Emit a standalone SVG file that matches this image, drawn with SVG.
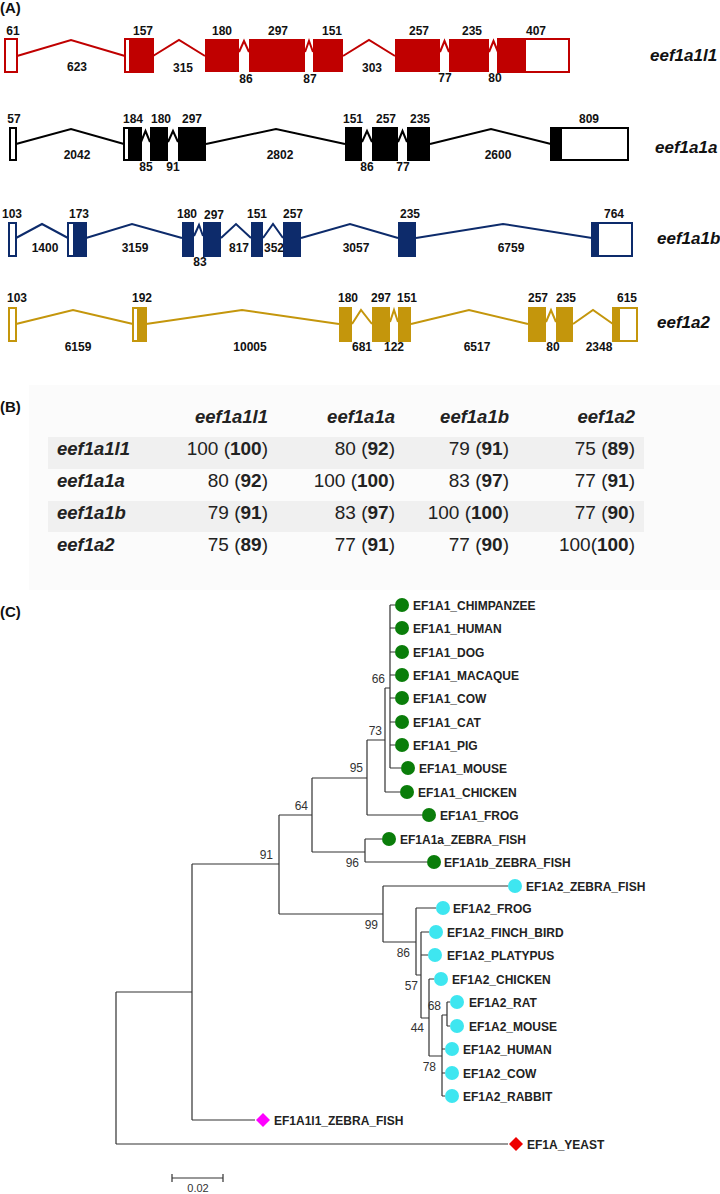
<svg xmlns="http://www.w3.org/2000/svg" width="720" height="1194" viewBox="0 0 720 1194">
<style>
.pl{font-family:"Liberation Sans",Arial,sans-serif;font-weight:bold;font-size:15px;fill:#111}
.n{font-family:"Liberation Sans",Arial,sans-serif;font-weight:bold;font-size:12px;fill:#111;text-anchor:middle}
.gl{font-family:"Liberation Sans",Arial,sans-serif;font-weight:bold;font-style:italic;font-size:17px;fill:#111}
.th{font-family:"Liberation Sans",Arial,sans-serif;font-weight:bold;font-style:italic;font-size:18.5px;fill:#222}
.tc{font-family:"Liberation Sans",Arial,sans-serif;font-size:19px;fill:#222;text-anchor:end}
.tc tspan{font-weight:bold}
.bs{font-family:"Liberation Sans",Arial,sans-serif;font-size:12px;fill:#333;text-anchor:end}
.lf{font-family:"Liberation Sans",Arial,sans-serif;font-weight:bold;font-size:12px;fill:#222}
.tl{fill:none;stroke:#333;stroke-width:1.2}
.ln{fill:none;stroke-width:2;stroke-linejoin:miter}
.r .ln,.r .u{stroke:#c00000}.r .f{fill:#c00000}
.k .ln,.k .u{stroke:#000}.k .f{fill:#000}
.b .ln,.b .u{stroke:#0d2b6b}.b .f{fill:#0d2b6b}
.g .ln,.g .u{stroke:#c4960c}.g .f{fill:#c4960c}
.u{fill:#fff;stroke-width:2}
.a1{fill:#0a7d0a}.a2{fill:#3ee6f0}
</style>
<rect width="720" height="1194" fill="#fff"/>
<text class="pl" x="0" y="13">(A)</text>
<text class="pl" x="0" y="412">(B)</text>
<text class="pl" x="0" y="617">(C)</text>

<!-- Panel A -->
<g id="gene-eef1a1l1" class="r">
<rect class="u" x="5" y="39" width="12" height="33"/>
<polyline class="ln" points="17,56 71,40 125,56"/>
<rect class="u" x="125" y="39" width="28" height="33"/>
<rect class="f" x="129" y="39" width="24" height="33"/>
<polyline class="ln" points="153,56 179,40 205,56"/>
<rect class="f" x="205" y="39" width="34" height="33"/>
<polyline class="ln" points="239,52 244,41 249,52"/>
<rect class="f" x="249" y="39" width="56" height="33"/>
<polyline class="ln" points="305,52 309,41 313,52"/>
<rect class="f" x="313" y="39" width="30" height="33"/>
<polyline class="ln" points="343,56 369,40 395,56"/>
<rect class="f" x="395" y="39" width="45" height="33"/>
<polyline class="ln" points="440,52 444.5,41 449,52"/>
<rect class="f" x="449" y="39" width="40" height="33"/>
<polyline class="ln" points="489,52 493.5,41 498,52"/>
<rect class="u" x="498" y="39" width="71" height="33"/>
<rect class="f" x="497" y="38" width="29" height="35"/>
<text class="n" x="13" y="35">61</text><text class="n" x="143" y="35">157</text><text class="n" x="222" y="35">180</text><text class="n" x="278" y="35">297</text><text class="n" x="332" y="35">151</text><text class="n" x="419" y="35">257</text><text class="n" x="472" y="35">235</text><text class="n" x="536" y="35">407</text>
<text class="n" x="77" y="71">623</text><text class="n" x="183" y="72">315</text><text class="n" x="246" y="83">86</text><text class="n" x="310" y="83">87</text><text class="n" x="372" y="72">303</text><text class="n" x="445" y="82">77</text><text class="n" x="495" y="82">80</text>
<text class="gl" x="650" y="61">eef1a1l1</text>
</g>

<g id="gene-eef1a1a" class="k">
<rect class="u" x="10" y="128" width="6" height="32"/>
<polyline class="ln" points="16,144 71,129 124,144"/>
<rect class="u" x="124" y="128" width="17" height="32"/>
<rect class="f" x="128" y="127" width="13" height="34"/>
<polyline class="ln" points="141,142 145.5,131 150,142"/>
<rect class="f" x="150" y="127" width="18" height="34"/>
<polyline class="ln" points="168,142 173,131 178,142"/>
<rect class="f" x="178" y="127" width="28" height="34"/>
<polyline class="ln" points="206,144 276,129 345,144"/>
<rect class="f" x="345" y="127" width="17" height="34"/>
<polyline class="ln" points="362,142 367,131 372,142"/>
<rect class="f" x="372" y="127" width="26" height="34"/>
<polyline class="ln" points="398,142 402.5,131 407,142"/>
<rect class="f" x="407" y="127" width="23" height="34"/>
<polyline class="ln" points="430,144 491,129 551,144"/>
<rect class="u" x="551" y="128" width="77" height="32"/>
<rect class="f" x="550" y="127" width="12" height="34"/>
<text class="n" x="14" y="123">57</text><text class="n" x="133" y="123">184</text><text class="n" x="161" y="123">180</text><text class="n" x="192" y="123">297</text><text class="n" x="353" y="123">151</text><text class="n" x="386" y="123">257</text><text class="n" x="420" y="123">235</text><text class="n" x="589" y="123">809</text>
<text class="n" x="77" y="159">2042</text><text class="n" x="146" y="171">85</text><text class="n" x="173" y="171">91</text><text class="n" x="280" y="159">2802</text><text class="n" x="367" y="171">86</text><text class="n" x="403" y="171">77</text><text class="n" x="498" y="159">2600</text>
<text class="gl" x="655" y="153">eef1a1a</text>
</g>

<g id="gene-eef1a1b" class="b">
<rect class="u" x="9" y="223" width="7" height="33"/>
<polyline class="ln" points="16,238 42,224 68,238"/>
<rect class="u" x="68" y="223" width="18" height="33"/>
<rect class="f" x="73" y="222" width="13" height="35"/>
<polyline class="ln" points="86,238 132,224 182,238"/>
<rect class="f" x="182" y="222" width="12" height="35"/>
<polyline class="ln" points="194,236 199,225 203,236"/>
<rect class="f" x="203" y="222" width="18" height="35"/>
<polyline class="ln" points="221,238 236,224 251,238"/>
<rect class="f" x="251" y="222" width="12" height="35"/>
<polyline class="ln" points="263,238 273,224 283,238"/>
<rect class="f" x="283" y="222" width="18" height="35"/>
<polyline class="ln" points="301,238 350,224 398,238"/>
<rect class="f" x="398" y="222" width="18" height="35"/>
<polyline class="ln" points="416,238 503,224 592,238"/>
<rect class="u" x="592" y="223" width="40" height="33"/>
<rect class="f" x="591" y="222" width="8" height="35"/>
<text class="n" x="12" y="218">103</text><text class="n" x="79" y="218">173</text><text class="n" x="187" y="218">180</text><text class="n" x="214" y="219">297</text><text class="n" x="257" y="218">151</text><text class="n" x="293" y="218">257</text><text class="n" x="410" y="218">235</text><text class="n" x="614" y="218">764</text>
<text class="n" x="45" y="252">1400</text><text class="n" x="135" y="252">3159</text><text class="n" x="200" y="266">83</text><text class="n" x="239" y="252">817</text><text class="n" x="274" y="252">352</text><text class="n" x="356" y="252">3057</text><text class="n" x="511" y="252">6759</text>
<text class="gl" x="657" y="244">eef1a1b</text>
</g>

<g id="gene-eef1a2" class="g">
<rect class="u" x="9" y="308" width="7" height="33"/>
<polyline class="ln" points="16,324 73,310 133,324"/>
<rect class="u" x="133" y="308" width="13" height="33"/>
<rect class="f" x="137" y="307" width="9" height="35"/>
<polyline class="ln" points="146,324 242,310 339,324"/>
<rect class="f" x="339" y="307" width="13" height="35"/>
<polyline class="ln" points="352,324 361,310 372,324"/>
<rect class="f" x="372" y="307" width="18" height="35"/>
<polyline class="ln" points="390,322 394,310 398,322"/>
<rect class="f" x="398" y="307" width="13" height="35"/>
<polyline class="ln" points="411,324 469,310 528,324"/>
<rect class="f" x="528" y="307" width="18" height="35"/>
<polyline class="ln" points="546,322 551,310 556,322"/>
<rect class="f" x="556" y="307" width="17" height="35"/>
<polyline class="ln" points="573,324 593,310 613,324"/>
<rect class="u" x="613" y="308" width="24" height="33"/>
<rect class="f" x="612" y="307" width="8" height="35"/>
<text class="n" x="17" y="302">103</text><text class="n" x="142" y="302">192</text><text class="n" x="348" y="302">180</text><text class="n" x="381" y="302">297</text><text class="n" x="407" y="302">151</text><text class="n" x="538" y="302">257</text><text class="n" x="566" y="302">235</text><text class="n" x="627" y="302">615</text>
<text class="n" x="78" y="351">6159</text><text class="n" x="250" y="351">10005</text><text class="n" x="362" y="351">681</text><text class="n" x="394" y="351">122</text><text class="n" x="477" y="351">6517</text><text class="n" x="553" y="351">80</text><text class="n" x="599" y="351">2348</text>
<text class="gl" x="657" y="328">eef1a2</text>
</g>

<!-- Panel B -->
<g id="table">
<rect x="29" y="385" width="691" height="205" fill="#fbfbfb"/>
<rect x="48" y="437" width="596" height="32" fill="#f0f0f0"/>
<rect x="48" y="501" width="596" height="31" fill="#f0f0f0"/>
<text class="th" x="268" y="423" text-anchor="end">eef1a1l1</text>
<text class="th" x="395" y="423" text-anchor="end">eef1a1a</text>
<text class="th" x="509" y="423" text-anchor="end">eef1a1b</text>
<text class="th" x="635" y="423" text-anchor="end">eef1a2</text>
<text class="th" x="57" y="455">eef1a1l1</text>
<text class="th" x="57" y="487">eef1a1a</text>
<text class="th" x="57" y="519">eef1a1b</text>
<text class="th" x="57" y="551">eef1a2</text>
<text class="tc" x="268" y="455">100 (<tspan>100</tspan>)</text>
<text class="tc" x="395" y="455">80 (<tspan>92</tspan>)</text>
<text class="tc" x="509" y="455">79 (<tspan>91</tspan>)</text>
<text class="tc" x="635" y="455">75 (<tspan>89</tspan>)</text>
<text class="tc" x="268" y="487">80 (<tspan>92</tspan>)</text>
<text class="tc" x="395" y="487">100 (<tspan>100</tspan>)</text>
<text class="tc" x="509" y="487">83 (<tspan>97</tspan>)</text>
<text class="tc" x="635" y="487">77 (<tspan>91</tspan>)</text>
<text class="tc" x="268" y="519">79 (<tspan>91</tspan>)</text>
<text class="tc" x="395" y="519">83 (<tspan>97</tspan>)</text>
<text class="tc" x="509" y="519">100 (<tspan>100</tspan>)</text>
<text class="tc" x="635" y="519">77 (<tspan>90</tspan>)</text>
<text class="tc" x="268" y="551">75 (<tspan>89</tspan>)</text>
<text class="tc" x="395" y="551">77 (<tspan>91</tspan>)</text>
<text class="tc" x="509" y="551">77 (<tspan>90</tspan>)</text>
<text class="tc" x="635" y="551">100(<tspan>100</tspan>)</text>
</g>

<!-- Panel C -->
<g id="connectors">
<path class="tl" d="M390,605V768 M390,605H395 M390,628H395 M390,652H395 M390,675H395 M390,698H395 M390,722H395 M390,745H395 M390,768H401
M385,688V792 M385,688H390 M385,792H400
M367,740V815 M367,740H385 M367,815H422
M312,778V852 M312,778H367 M312,852H365
M365,839V862 M365,839H382 M365,862H427
M279,815V914 M279,815H312 M279,914H383
M383,886V942 M383,886H508 M383,942H416
M416,908V975 M416,908H436 M416,975H421
M421,932V1018 M421,932H429 M421,955H428 M421,1018H429
M429,979V1056 M429,979H434 M429,1056H442
M442,1015V1096 M442,1015H447 M442,1049H445 M442,1073H445 M442,1096H445
M447,1002V1026 M447,1002H450 M447,1026H450
M192,864V1120 M192,864H279 M192,1120H255
M116,992V1144 M116,992H192 M116,1144H508"/>
</g>
<g id="bootstrap">
<text class="bs" x="385" y="683">66</text>
<text class="bs" x="382" y="735">73</text>
<text class="bs" x="363" y="772">95</text>
<text class="bs" x="308" y="810">64</text>
<text class="bs" x="359" y="867">96</text>
<text class="bs" x="273" y="859">91</text>
<text class="bs" x="378" y="929">99</text>
<text class="bs" x="410" y="957">86</text>
<text class="bs" x="418" y="990">57</text>
<text class="bs" x="424" y="1032">44</text>
<text class="bs" x="441" y="1010">68</text>
<text class="bs" x="436" y="1071">78</text>
</g>
<g id="leaf-a1-chimpanzee"><circle class="a1" cx="402" cy="605" r="7"/><text class="lf" x="413" y="609.5">EF1A1_CHIMPANZEE</text></g>
<g id="leaf-a1-human"><circle class="a1" cx="402" cy="628" r="7"/><text class="lf" x="413" y="632.5">EF1A1_HUMAN</text></g>
<g id="leaf-a1-dog"><circle class="a1" cx="402" cy="652" r="7"/><text class="lf" x="413" y="656.5">EF1A1_DOG</text></g>
<g id="leaf-a1-macaque"><circle class="a1" cx="402" cy="675" r="7"/><text class="lf" x="413" y="679.5">EF1A1_MACAQUE</text></g>
<g id="leaf-a1-cow"><circle class="a1" cx="402" cy="698" r="7"/><text class="lf" x="413" y="702.5">EF1A1_COW</text></g>
<g id="leaf-a1-cat"><circle class="a1" cx="402" cy="722" r="7"/><text class="lf" x="413" y="726.5">EF1A1_CAT</text></g>
<g id="leaf-a1-pig"><circle class="a1" cx="402" cy="745" r="7"/><text class="lf" x="413" y="749.5">EF1A1_PIG</text></g>
<g id="leaf-a1-mouse"><circle class="a1" cx="408" cy="768" r="7"/><text class="lf" x="419" y="772.5">EF1A1_MOUSE</text></g>
<g id="leaf-a1-chicken"><circle class="a1" cx="407" cy="792" r="7"/><text class="lf" x="418" y="796.5">EF1A1_CHICKEN</text></g>
<g id="leaf-a1-frog"><circle class="a1" cx="429" cy="815" r="7"/><text class="lf" x="440" y="819.5">EF1A1_FROG</text></g>
<g id="leaf-a1a-zebrafish"><circle class="a1" cx="389" cy="839" r="7"/><text class="lf" x="400" y="843.5">EF1A1a_ZEBRA_FISH</text></g>
<g id="leaf-a1b-zebrafish"><circle class="a1" cx="434" cy="862" r="7"/><text class="lf" x="444" y="866.5">EF1A1b_ZEBRA_FISH</text></g>
<g id="leaf-a2-zebrafish"><circle class="a2" cx="515" cy="886" r="7"/><text class="lf" x="526" y="890.5">EF1A2_ZEBRA_FISH</text></g>
<g id="leaf-a2-frog"><circle class="a2" cx="443" cy="908" r="7"/><text class="lf" x="453" y="912.5">EF1A2_FROG</text></g>
<g id="leaf-a2-finch"><circle class="a2" cx="436" cy="932" r="7"/><text class="lf" x="447" y="936.5">EF1A2_FINCH_BIRD</text></g>
<g id="leaf-a2-platypus"><circle class="a2" cx="435" cy="955" r="7"/><text class="lf" x="447" y="959.5">EF1A2_PLATYPUS</text></g>
<g id="leaf-a2-chicken"><circle class="a2" cx="441" cy="979" r="7"/><text class="lf" x="452" y="983.5">EF1A2_CHICKEN</text></g>
<g id="leaf-a2-rat"><circle class="a2" cx="457" cy="1002" r="7"/><text class="lf" x="469" y="1006.5">EF1A2_RAT</text></g>
<g id="leaf-a2-mouse"><circle class="a2" cx="457" cy="1026" r="7"/><text class="lf" x="469" y="1030.5">EF1A2_MOUSE</text></g>
<g id="leaf-a2-human"><circle class="a2" cx="452" cy="1049" r="7"/><text class="lf" x="463" y="1053.5">EF1A2_HUMAN</text></g>
<g id="leaf-a2-cow"><circle class="a2" cx="452" cy="1073" r="7"/><text class="lf" x="463" y="1077.5">EF1A2_COW</text></g>
<g id="leaf-a2-rabbit"><circle class="a2" cx="452" cy="1096" r="7"/><text class="lf" x="463" y="1100.5">EF1A2_RABBIT</text></g>
<g id="leaf-a1l1-zebrafish"><path d="M263,1113 L270,1120 L263,1127 L256,1120Z" fill="#ff00ff"/><text class="lf" x="274" y="1124.5">EF1A1l1_ZEBRA_FISH</text></g>
<g id="leaf-yeast"><path d="M516,1137 L523,1144 L516,1151 L509,1144Z" fill="#ee0000"/><text class="lf" x="527" y="1148.5">EF1A_YEAST</text></g>
<g id="scalebar">
<path class="tl" d="M172,1178H223 M172,1174V1182 M223,1174V1182"/>
<text x="198" y="1192" font-family="Liberation Sans, Arial, sans-serif" font-size="11" fill="#333" text-anchor="middle">0.02</text>
</g>
</svg>
